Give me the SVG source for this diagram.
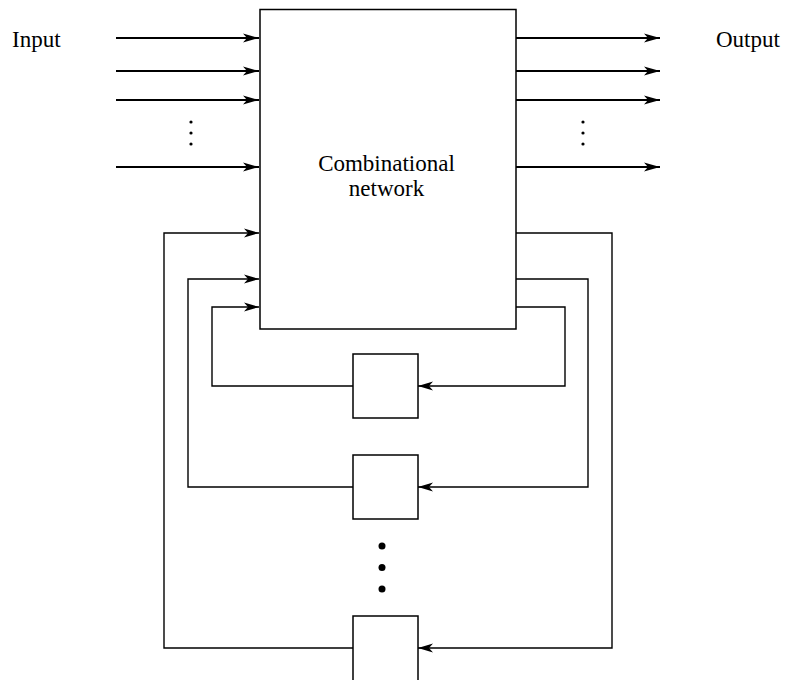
<svg xmlns="http://www.w3.org/2000/svg" width="789" height="680" viewBox="0 0 789 680">
<style>
.box{fill:#fff;stroke:#000;stroke-width:1.5}
.thick{fill:none;stroke:#000;stroke-width:2.2;marker-end:url(#ah)}
.thin{fill:none;stroke:#000;stroke-width:1.4}
.thinA{fill:none;stroke:#000;stroke-width:1.4;marker-end:url(#ah2)}
.lbl{font-family:"Liberation Serif","Times New Roman",serif;font-size:23px;fill:#000}
</style>
<defs>
<marker id="ah" markerUnits="userSpaceOnUse" viewBox="-17 -6 18 12" markerWidth="18" markerHeight="12" refX="0" refY="0" orient="auto">
<path d="M0,0 L-16,-4.5 L-12,0 L-16,4.5 Z" fill="#000"/>
</marker>
<marker id="ah2" markerUnits="userSpaceOnUse" viewBox="-17 -6 18 12" markerWidth="18" markerHeight="12" refX="0" refY="0" orient="auto">
<path d="M0,0 L-15,-4.5 L-11,0 L-15,4.5 Z" fill="#000"/>
</marker>
</defs>
<g id="connectors">
<line class="thick" x1="116" y1="38" x2="259" y2="38"/>
<line class="thick" x1="116" y1="71" x2="259" y2="71"/>
<line class="thick" x1="116" y1="100" x2="259" y2="100"/>
<line class="thick" x1="116" y1="167" x2="259" y2="167"/>
<line class="thick" x1="516" y1="38" x2="660" y2="38"/>
<line class="thick" x1="516" y1="71" x2="660" y2="71"/>
<line class="thick" x1="516" y1="100" x2="660" y2="100"/>
<line class="thick" x1="516" y1="167" x2="660" y2="167"/>
<polyline class="thinA" points="516,233 612,233 612,648 418,648"/>
<polyline class="thinA" points="353,648 164,648 164,233 259,233"/>
<polyline class="thinA" points="516,279 588,279 588,487 418,487"/>
<polyline class="thinA" points="353,487 188,487 188,279 259,279"/>
<polyline class="thinA" points="516,307 565,307 565,386 418,386"/>
<polyline class="thinA" points="353,386 212,386 212,307 259,307"/>
</g>
<g id="combinational">
<rect class="box" x="260" y="9.5" width="256" height="319.5"/>
<text class="lbl" x="386.5" y="171" text-anchor="middle">Combinational</text>
<text class="lbl" x="386.5" y="195.5" text-anchor="middle">network</text>
</g>
<g id="mem1"><rect class="box" x="353" y="354" width="65" height="64"/></g>
<g id="mem2"><rect class="box" x="353" y="455" width="65" height="64"/></g>
<g id="memN"><rect class="box" x="353" y="616" width="65" height="70"/></g>
<g id="labels">
<text class="lbl" x="12" y="47">Input</text>
<text class="lbl" x="716" y="47">Output</text>
</g>
<g id="dots" fill="#000">
<circle cx="191" cy="122" r="1.6"/><circle cx="191" cy="133" r="1.6"/><circle cx="191" cy="144" r="1.6"/>
<circle cx="583" cy="122" r="1.6"/><circle cx="583" cy="133" r="1.6"/><circle cx="583" cy="144" r="1.6"/>
<circle cx="382" cy="546" r="3.5"/><circle cx="382" cy="567.5" r="3.5"/><circle cx="382" cy="589" r="3.5"/>
</g>
</svg>
